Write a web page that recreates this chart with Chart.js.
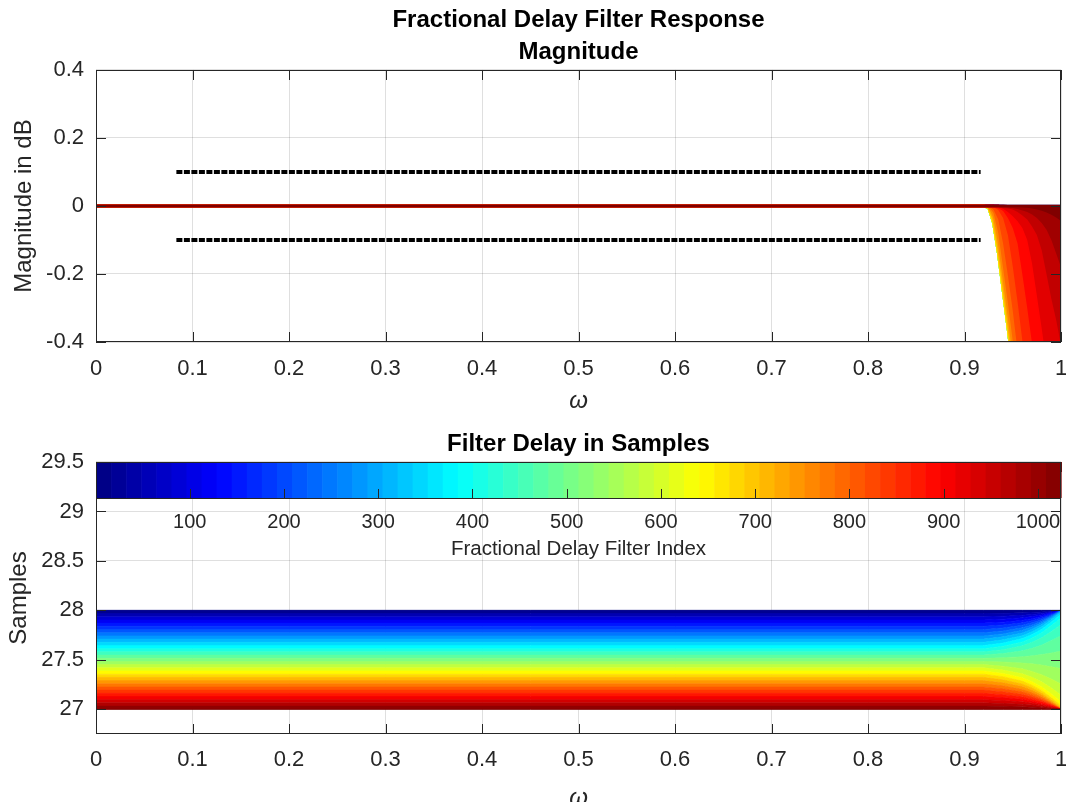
<!DOCTYPE html>
<html>
<head>
<meta charset="utf-8">
<script src="https://cdn.jsdelivr.net/npm/chart.js@4.4.1/dist/chart.umd.min.js"></script>
<style>
  html, body { margin: 0; padding: 0; background: #fff; overflow: hidden; width: 1066px; height: 802px; }
  canvas { position: absolute; left: 0; }
  #magChart { top: 0; }
  #delayChart { top: 420px; }
</style>
</head>
<body>
<canvas id="magChart" width="1157" height="420"></canvas>
<canvas id="delayChart" width="1157" height="400"></canvas>
<script>
const FONT = "'Liberation Sans', Arial, Helvetica, sans-serif"
const INK = '#262626'
const GRID = 'rgba(38,38,38,0.15)'

// tick labels
const omegaTicks = [0, 0.1, 0.2, 0.3, 0.4, 0.5, 0.6, 0.7, 0.8, 0.9, 1]
const magTicks = [-0.4, -0.2, 0, 0.2, 0.4]
const delayTicks = [27, 27.5, 28, 28.5, 29, 29.5]
const cbTicks = [100, 200, 300, 400, 500, 600, 700, 800, 900, 1000]

// passband spec (dotted black lines)
const specOmega = [0.0833, 0.9167]
const specUpper = [0.1, 0.1]
const specLower = [-0.1, -0.1]

// magnitude in dB, one row per fractional distance class (0 = half sample ... 15 = integer)
const magOmega = [0, 0.45, 0.9, 0.92, 0.925, 0.93, 0.935, 0.94, 0.945, 0.95, 0.955, 0.96, 0.965, 0.97, 0.975, 0.98, 0.985, 0.99, 0.995, 1]
const magDbByClass = [
  [0, 0, 0, 0, -0.005, -0.05, -0.14, -0.25, -0.36, -0.48, -0.62, -0.78, -0.95, -1.15, -1.4, -1.7, -2.1, -2.6, -3.3, -25.9],
  [0, 0, 0, 0, -0.005, -0.05, -0.14, -0.25, -0.36, -0.48, -0.62, -0.78, -0.95, -1.15, -1.4, -1.7, -2.1, -2.6, -3.3, -16.4],
  [0, 0, 0, 0, -0.005, -0.05, -0.14, -0.25, -0.36, -0.48, -0.62, -0.78, -0.95, -1.15, -1.4, -1.7, -2.1, -2.6, -3.3, -12.0],
  [0, 0, 0, 0, -0.005, -0.05, -0.14, -0.25, -0.36, -0.48, -0.62, -0.78, -0.95, -1.15, -1.4, -1.7, -2.1, -2.6, -3.29, -9.15],
  [0, 0, 0, 0, -0.005, -0.05, -0.14, -0.25, -0.36, -0.48, -0.62, -0.78, -0.95, -1.15, -1.4, -1.69, -2.08, -2.59, -3.27, -7.11],
  [0, 0, 0, 0, -0.004, -0.043, -0.133, -0.242, -0.351, -0.469, -0.608, -0.766, -0.934, -1.131, -1.377, -1.671, -2.058, -2.53, -3.17, -5.53],
  [0, 0, 0, 0, -0.003, -0.035, -0.116, -0.224, -0.33, -0.447, -0.582, -0.736, -0.9, -1.09, -1.325, -1.603, -1.962, -2.389, -2.922, -4.26],
  [0, 0, 0, 0, -0.002, -0.02, -0.08, -0.183, -0.286, -0.397, -0.527, -0.672, -0.825, -1.002, -1.217, -1.466, -1.775, -2.12, -2.514, -3.24],
  [0, 0, 0, 0, -0.001, -0.01, -0.04, -0.11, -0.205, -0.308, -0.427, -0.558, -0.696, -0.851, -1.036, -1.242, -1.487, -1.743, -2.004, -2.4],
  [0, 0, 0, 0, 0, -0.003, -0.012, -0.035, -0.086, -0.178, -0.282, -0.397, -0.514, -0.644, -0.794, -0.956, -1.139, -1.319, -1.488, -1.715],
  [0, 0, 0, 0, 0, 0, -0.005, -0.015, -0.035, -0.065, -0.11, -0.202, -0.3, -0.405, -0.524, -0.648, -0.783, -0.909, -1.023, -1.166],
  [0, 0, 0, 0, 0, 0, -0.003, -0.008, -0.018, -0.03, -0.045, -0.065, -0.1, -0.169, -0.264, -0.36, -0.462, -0.555, -0.636, -0.734],
  [0, 0, 0, 0, 0, 0, 0, -0.003, -0.006, -0.01, -0.018, -0.028, -0.04, -0.06, -0.085, -0.13, -0.201, -0.273, -0.335, -0.41],
  [0, 0, 0, 0, 0, 0, 0, -0.002, -0.004, -0.006, -0.009, -0.013, -0.018, -0.025, -0.035, -0.05, -0.07, -0.1, -0.14, -0.18],
  [0, 0, 0, 0, 0, 0, 0, 0, -0.001, -0.002, -0.003, -0.004, -0.005, -0.007, -0.01, -0.014, -0.019, -0.026, -0.034, -0.044],
  [0, 0, 0, 0, 0, 0, 0, 0, 0, 0, 0, 0, 0, 0, 0, 0, 0, 0, 0, 0]
]
// which class each of the 32 drawn filters belongs to
const filterClass = [15, 14, 13, 12, 11, 10, 9, 8, 7, 6, 5, 4, 3, 2, 1, 0, 0, 1, 2, 3, 4, 5, 6, 7, 8, 9, 10, 11, 12, 13, 14, 15]

// group delay in samples, one row per drawn filter
const delayOmega = [0, 0.45, 0.9, 0.92, 0.94, 0.96, 0.97, 0.98, 0.99, 1]
const delayByFilter = [
  [28, 28, 28, 28, 28, 28, 28, 28, 28, 28],
  [27.968, 27.968, 27.968, 27.968, 27.970, 27.975, 27.979, 27.984, 27.992, 28.0],
  [27.935, 27.935, 27.935, 27.935, 27.941, 27.950, 27.958, 27.969, 27.984, 28.0],
  [27.903, 27.903, 27.903, 27.903, 27.911, 27.925, 27.937, 27.954, 27.976, 28.0],
  [27.871, 27.871, 27.871, 27.871, 27.881, 27.899, 27.916, 27.938, 27.968, 28.0],
  [27.839, 27.839, 27.839, 27.839, 27.852, 27.874, 27.895, 27.922, 27.959, 27.999],
  [27.806, 27.806, 27.806, 27.806, 27.822, 27.849, 27.874, 27.906, 27.951, 27.999],
  [27.774, 27.774, 27.774, 27.774, 27.792, 27.823, 27.852, 27.890, 27.942, 27.998],
  [27.742, 27.742, 27.742, 27.742, 27.762, 27.798, 27.831, 27.874, 27.932, 27.995],
  [27.710, 27.710, 27.710, 27.710, 27.732, 27.771, 27.808, 27.856, 27.920, 27.990],
  [27.677, 27.677, 27.677, 27.677, 27.702, 27.744, 27.783, 27.835, 27.904, 27.980],
  [27.645, 27.645, 27.645, 27.645, 27.670, 27.715, 27.756, 27.809, 27.882, 27.961],
  [27.613, 27.613, 27.613, 27.613, 27.638, 27.681, 27.721, 27.774, 27.846, 27.923],
  [27.581, 27.581, 27.581, 27.581, 27.603, 27.641, 27.677, 27.723, 27.786, 27.855],
  [27.548, 27.548, 27.548, 27.548, 27.564, 27.591, 27.617, 27.650, 27.695, 27.744],
  [27.516, 27.516, 27.516, 27.516, 27.522, 27.532, 27.541, 27.553, 27.570, 27.588],
  [27.484, 27.484, 27.484, 27.484, 27.478, 27.468, 27.459, 27.447, 27.430, 27.412],
  [27.452, 27.452, 27.452, 27.452, 27.436, 27.409, 27.383, 27.350, 27.305, 27.256],
  [27.419, 27.419, 27.419, 27.419, 27.397, 27.359, 27.323, 27.277, 27.214, 27.145],
  [27.387, 27.387, 27.387, 27.387, 27.362, 27.319, 27.279, 27.226, 27.154, 27.077],
  [27.355, 27.355, 27.355, 27.355, 27.330, 27.285, 27.244, 27.191, 27.118, 27.039],
  [27.323, 27.323, 27.323, 27.323, 27.298, 27.256, 27.217, 27.165, 27.096, 27.020],
  [27.290, 27.290, 27.290, 27.290, 27.268, 27.229, 27.192, 27.144, 27.080, 27.010],
  [27.258, 27.258, 27.258, 27.258, 27.238, 27.202, 27.169, 27.126, 27.068, 27.005],
  [27.226, 27.226, 27.226, 27.226, 27.208, 27.177, 27.148, 27.110, 27.058, 27.002],
  [27.194, 27.194, 27.194, 27.194, 27.178, 27.151, 27.126, 27.094, 27.049, 27.001],
  [27.161, 27.161, 27.161, 27.161, 27.148, 27.126, 27.105, 27.078, 27.041, 27.001],
  [27.129, 27.129, 27.129, 27.129, 27.119, 27.101, 27.084, 27.062, 27.032, 27.000],
  [27.097, 27.097, 27.097, 27.097, 27.089, 27.075, 27.063, 27.046, 27.024, 27.000],
  [27.065, 27.065, 27.065, 27.065, 27.059, 27.050, 27.042, 27.031, 27.016, 27.000],
  [27.032, 27.032, 27.032, 27.032, 27.030, 27.025, 27.021, 27.016, 27.008, 27.000],
  [27, 27, 27, 27, 27, 27, 27, 27, 27, 27]
]

Chart.defaults.font.family = FONT
Chart.defaults.color = INK

// matlab style jet colormap
function jet(t) {
  const c = v => Math.round(255 * Math.max(0, Math.min(1, v)))
  return 'rgb(' + c(1.5 - Math.abs(4 * t - 3)) + ',' + c(1.5 - Math.abs(4 * t - 2)) + ',' + c(1.5 - Math.abs(4 * t - 1)) + ')'
}

const tickFont = { size: 22, lineHeight: 1.2 }
const labelFont = { size: 24, lineHeight: 1.2 }

function fixTicks(values) {
  return scale => { scale.ticks = values.map(v => ({ value: v })) }
}

// spacer axis on the right so the title centres over the plot box
const spacer = {
  position: 'right',
  afterFit: s => { s.width = 96 },
  grid: { display: false },
  ticks: { display: false },
  border: { display: false }
}

function colorbar(chart) {
  const { ctx, chartArea: a, scales } = chart
  const cb = scales.cb
  const top = a.top, h = 36
  for (let i = 0; i < 64; i++) {
    const x0 = cb.getPixelForValue(0.5 + i * 16)
    const x1 = cb.getPixelForValue(0.5 + (i + 1) * 16)
    ctx.fillStyle = jet((i + 0.5) / 64)
    ctx.fillRect(x0, top, x1 - x0 + 0.6, h)
  }
  ctx.strokeStyle = INK
  ctx.lineWidth = 1
  ctx.strokeRect(Math.round(a.left) + 0.5, Math.round(top) + 0.5, Math.round(a.right - a.left) - 1, h)
  ctx.beginPath()
  cbTicks.forEach(v => {
    const px = Math.round(cb.getPixelForValue(v)) + 0.5
    ctx.moveTo(px, top + h)
    ctx.lineTo(px, top + h - 9)
  })
  ctx.stroke()
  ctx.fillStyle = INK
  ctx.textAlign = 'center'
  ctx.textBaseline = 'middle'
  ctx.font = '20px ' + FONT
  cbTicks.forEach(v => ctx.fillText(String(v), cb.getPixelForValue(v), top + 60))
  ctx.font = '20.5px ' + FONT
  ctx.fillText('Fractional Delay Filter Index', (a.left + a.right) / 2, top + 87)
}

// box, inward ticks on all four sides, optional colorbar
const matlabAxes = {
  id: 'matlabAxes',
  afterDatasetsDraw(chart, args, opts) {
    const { ctx, chartArea: a, scales } = chart
    const L = 10
    ctx.save()
    ctx.strokeStyle = INK
    ctx.lineWidth = 1
    ctx.beginPath()
    scales.x.ticks.forEach(t => {
      const px = Math.round(scales.x.getPixelForValue(t.value)) + 0.5
      ctx.moveTo(px, a.bottom); ctx.lineTo(px, a.bottom - L)
      ctx.moveTo(px, a.top); ctx.lineTo(px, a.top + L)
    })
    scales.y.ticks.forEach(t => {
      const py = Math.round(scales.y.getPixelForValue(t.value)) + 0.5
      ctx.moveTo(a.left, py); ctx.lineTo(a.left + L, py)
      ctx.moveTo(a.right, py); ctx.lineTo(a.right - L, py)
    })
    ctx.stroke()
    ctx.strokeRect(Math.round(a.left) + 0.5, Math.round(a.top) + 0.5, Math.round(a.right - a.left) - 1, Math.round(a.bottom - a.top) - 1)
    if (opts.colorbar) colorbar(chart)
    ctx.restore()
  }
}

// ---- top: magnitude ----
// Chart.js paints low "order" last, so later filters get a lower order to land on top
const nFilt = filterClass.length
const magSets = filterClass.map((cls, k) => ({
  data: magOmega.map((w, i) => ({ x: w, y: magDbByClass[cls][i] })),
  borderColor: jet(k / (nFilt - 1)),
  backgroundColor: jet(k / (nFilt - 1)),
  borderWidth: 2.5,
  fill: k === 0 ? false : '-1',
  order: nFilt - k,
  clip: 0
}))
const specStyle = { borderColor: '#000', borderWidth: 4, borderDash: [6, 1.5], fill: false, order: 0 }
magSets.push(Object.assign({ data: specOmega.map((w, i) => ({ x: w, y: specUpper[i] })) }, specStyle))
magSets.push(Object.assign({ data: specOmega.map((w, i) => ({ x: w, y: specLower[i] })) }, specStyle))

new Chart(document.getElementById('magChart'), {
  type: 'line',
  data: { datasets: magSets },
  options: {
    responsive: false,
    animation: false,
    devicePixelRatio: 1,
    elements: { point: { radius: 0 }, line: { tension: 0 } },
    plugins: {
      legend: { display: false },
      tooltip: { enabled: false },
      title: {
        display: true,
        text: ['Fractional Delay Filter Response', 'Magnitude'],
        color: '#000',
        font: { size: 24, weight: 'bold', lineHeight: 1.3333 },
        padding: { top: 4, bottom: 2 }
      }
    },
    scales: {
      x: {
        type: 'linear', min: 0, max: 1,
        afterBuildTicks: fixTicks(omegaTicks),
        afterFit: s => { s.height = 78 },
        grid: { color: GRID, drawTicks: false },
        border: { display: false },
        ticks: { font: tickFont, color: INK, padding: 14, maxRotation: 0, callback: v => String(v) },
        title: { display: true, text: 'ω', color: INK, font: { size: 24, style: 'italic', lineHeight: 1.2 }, padding: { top: 0, bottom: 4 } }
      },
      y: {
        type: 'linear', min: -0.4, max: 0.4,
        afterBuildTicks: fixTicks(magTicks),
        afterFit: s => { s.width = 96 },
        grid: { color: GRID, drawTicks: false },
        border: { display: false },
        ticks: { font: tickFont, color: INK, padding: 12, callback: v => String(v) },
        title: { display: true, text: 'Magnitude in dB', color: INK, font: labelFont, padding: { top: 9.5, bottom: 0 } }
      },
      yr: spacer
    }
  },
  plugins: [matlabAxes]
})

// ---- bottom: group delay ----
const delaySets = delayByFilter.map((row, k) => ({
  data: delayOmega.map((w, i) => ({ x: w, y: row[i] })),
  borderColor: jet(k / (delayByFilter.length - 1)),
  backgroundColor: jet(Math.max(0, k - 0.5) / (delayByFilter.length - 1)),
  borderWidth: 1,
  fill: k === 0 ? false : '-1',
  order: delayByFilter.length - k
}))

new Chart(document.getElementById('delayChart'), {
  type: 'line',
  data: { datasets: delaySets },
  options: {
    responsive: false,
    animation: false,
    devicePixelRatio: 1,
    elements: { point: { radius: 0 }, line: { tension: 0 } },
    plugins: {
      legend: { display: false },
      tooltip: { enabled: false },
      title: {
        display: true,
        text: 'Filter Delay in Samples',
        color: '#000',
        font: { size: 24, weight: 'bold', lineHeight: 1.3333 },
        padding: { top: 8, bottom: 2 }
      },
      matlabAxes: { colorbar: true }
    },
    scales: {
      x: {
        type: 'linear', min: 0, max: 1,
        afterBuildTicks: fixTicks(omegaTicks),
        afterFit: s => { s.height = 86 },
        grid: { color: GRID, drawTicks: false },
        border: { display: false },
        ticks: { font: tickFont, color: INK, padding: 12.5, maxRotation: 0, callback: v => String(v) },
        title: { display: true, text: 'ω', color: INK, font: { size: 24, style: 'italic', lineHeight: 1.2 }, padding: { top: 0, bottom: 7 } }
      },
      cb: { type: 'linear', position: 'top', display: false, min: 0.5, max: 1024.5 },
      y: {
        type: 'linear', min: 26.75, max: 29.5,
        afterBuildTicks: fixTicks(delayTicks),
        afterFit: s => { s.width = 96 },
        grid: { color: GRID, drawTicks: false },
        border: { display: false },
        ticks: { font: tickFont, color: INK, padding: 12, callback: v => String(v) },
        title: { display: true, text: 'Samples', color: INK, font: labelFont, padding: { top: 4.5, bottom: 0 } }
      },
      yr: spacer
    }
  },
  plugins: [matlabAxes]
})
</script>
</body>
</html>
